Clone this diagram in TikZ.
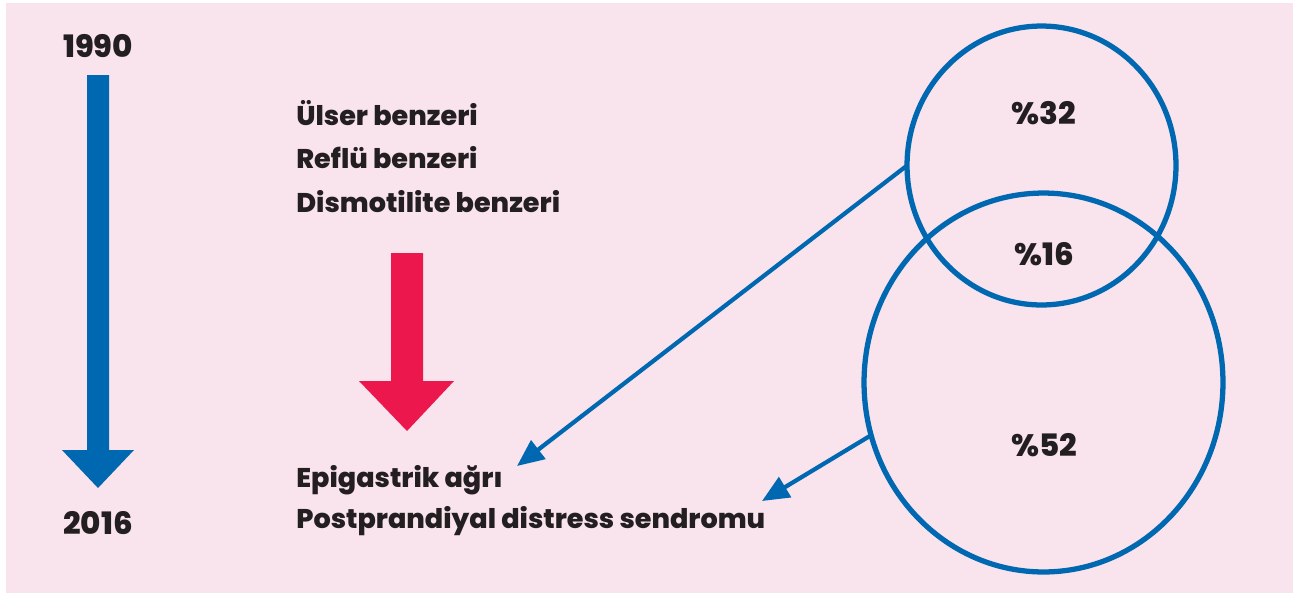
\documentclass[tikz,border=0pt]{standalone}
\usepackage{fontspec}
\setmainfont{Poppins}[BoldFont={Poppins ExtraBold}]
\usetikzlibrary{arrows.meta,shapes.geometric}
\definecolor{bgpink}{HTML}{F9E3EC}
\definecolor{dblue}{HTML}{0067B1}
\definecolor{dred}{HTML}{EC174C}
\definecolor{ink}{HTML}{231F20}
\begin{document}
\begin{tikzpicture}[
            x=0.02cm, y=-0.02cm,
            lbl/.style={font=\fontsize{15.4}{18}\selectfont\bfseries, text=ink, inner sep=0pt},
            num/.style={lbl, font=\fontsize{17.6}{20}\selectfont\bfseries},
            item/.style={lbl, anchor=base west},
            ring/.style={ellipse, draw=dblue, line width=3pt, inner sep=0pt, outer sep=0pt},
            link/.style={-{Triangle[length=0.54cm, width=0.46cm]}, draw=dblue, line width=2.4pt},
        ]
            % Canvas
            \useasboundingbox (0,0) rectangle (1293,593);
            \fill[bgpink] (6,3) rectangle (1293,593);

            % Timeline
            \node[num] (y1990) at (98,46) {1990};
            \node[num] (y2016) at (98,523) {2016};
            \fill[dblue] (87,75) -- (109,75) -- (109,450) -- (134,450) -- (98,488) -- (62,450) -- (87,450) -- cycle;

            % Old subgroups
            \node[item] (ulser) at (296,125) {Ülser benzeri};
            \node[item] (reflu) at (296,168) {Reflü benzeri};
            \node[item] (dismot) at (296,212) {Dismotilite benzeri};
            \fill[dred] (391,253) -- (423,253) -- (423,381) -- (454,381) -- (407,431) -- (359,381) -- (391,381) -- cycle;

            % New subgroups
            \node[item] (epig) at (296,487) {Epigastrik ağrı};
            \node[item] (postp) at (296,528) {Postprandiyal distress sendromu};

            % Overlap of the two groups
            \node[ring, minimum width=5.38cm, minimum height=5.58cm] (small) at (1041.5,165.5) {};
            \node[ring, minimum width=7.18cm, minimum height=7.58cm] (big) at (1043.5,382.5) {};
            \node[num] (p32) at (1044,113) {\%32};
            \node[num] (p16) at (1044,254) {\%16};
            \node[num] (p52) at (1044,445) {\%52};

            % Links to the new subgroups
            \coordinate (epigtip) at (517,466);
            \coordinate (posttip) at (762,501);
            \draw[link] (small.west) -- (epigtip);
            \draw[link] (big.197) -- (posttip);
        \end{tikzpicture}
\end{document}
